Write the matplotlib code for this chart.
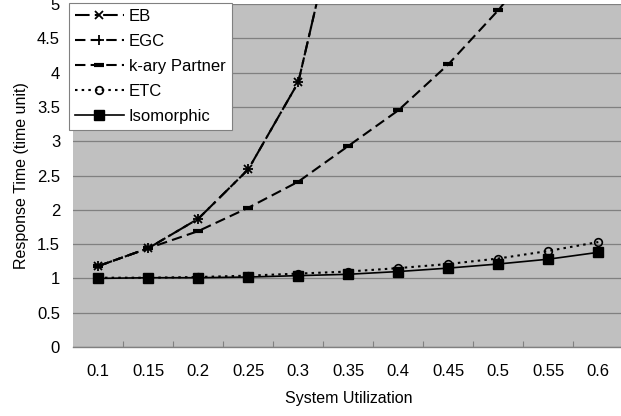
import numpy as np
import matplotlib
matplotlib.use('Agg')
import matplotlib.pyplot as plt
from matplotlib.ticker import MultipleLocator, FixedLocator

plt.rcParams['font.family'] = ['Liberation Sans', 'DejaVu Sans']
plt.rcParams['font.size'] = 12

# data
utilization = ['0.1', '0.15', '0.2', '0.25', '0.3', '0.35', '0.4', '0.45', '0.5', '0.55', '0.6']
eb = [1.18, 1.44, 1.87, 2.59, 3.86, 7.0, np.nan, np.nan, np.nan, np.nan, np.nan]
egc = [1.18, 1.44, 1.87, 2.59, 3.86, 7.0, np.nan, np.nan, np.nan, np.nan, np.nan]
kary = [1.18, 1.44, 1.69, 2.03, 2.41, 2.93, 3.45, 4.12, 4.91, 5.8, np.nan]
etc = [1.01, 1.01, 1.02, 1.04, 1.07, 1.10, 1.15, 1.21, 1.29, 1.40, 1.53]
iso = [1.00, 1.01, 1.01, 1.02, 1.04, 1.06, 1.10, 1.15, 1.21, 1.28, 1.38]

W, H = 621, 416
fig = plt.figure(figsize=(W / 100, H / 100), dpi=100)
fig.patch.set_facecolor('white')
ax = fig.add_axes([73.3 / W, (H - 347) / H, 550 / W, 343 / H])
ax.set_facecolor('#C0C0C0')

x = np.arange(len(utilization))

ax.plot(x, eb, color='black', lw=1.5, dashes=(7, 2.5, 1.5, 2.5),
        marker='x', ms=6, mew=1.3, label='EB')
ax.plot(x, egc, color='black', lw=1.5, dashes=(5, 2.5),
        marker='+', ms=7, mew=1.3, label='EGC')
ax.plot(x, kary, color='black', lw=1.5, dashes=(5, 2.5),
        marker='_', ms=7, mew=3, label='k-ary Partner')
ax.plot(x, etc, color='black', lw=1.5, dashes=(1.2, 2),
        marker='o', ms=5.5, mew=1.2, mfc='none', label='ETC')
ax.plot(x, iso, color='black', lw=1.2, linestyle='-',
        marker='s', ms=7, label='Isomorphic')

ax.set_xlim(-0.5, len(utilization) - 0.5)
ax.set_ylim(0, 5)
ax.set_xticks(x)
ax.set_xticklabels(utilization)
ax.xaxis.set_minor_locator(FixedLocator(np.arange(0.5, len(utilization) - 0.5, 1)))
ax.tick_params(axis='x', which='major', length=0, pad=12, labelsize=12)
ax.tick_params(axis='x', which='minor', direction='in', length=4, color='#808080', width=0.8)
ax.yaxis.set_major_locator(MultipleLocator(0.5))
ax.yaxis.set_major_formatter(plt.FuncFormatter(lambda v, p: f'{v:g}'))
ax.tick_params(axis='y', length=0, pad=9.5, labelsize=12)

ax.grid(True, axis='y', color='#808080', lw=0.9)
ax.set_axisbelow(True)
for s in ['left', 'right', 'top']:
    ax.spines[s].set_visible(False)
ax.spines['bottom'].set_color('#808080')
ax.spines['bottom'].set_linewidth(1.0)

ax.set_xlabel('System Utilization', fontsize=11.5, labelpad=9)
ax.set_ylabel('Response Time (time unit)', fontsize=11.5, labelpad=6)

leg = ax.legend(loc='upper left', bbox_to_anchor=(69 / W, 1 - 3 / H),
                bbox_transform=fig.transFigure, fancybox=False, framealpha=1,
                edgecolor='#808080', numpoints=1, handlelength=2.95,
                handletextpad=0.3, borderpad=0.35, labelspacing=0.6,
                borderaxespad=0, fontsize=12)
leg.get_frame().set_linewidth(0.8)

fig.savefig('out.png', dpi=100)
